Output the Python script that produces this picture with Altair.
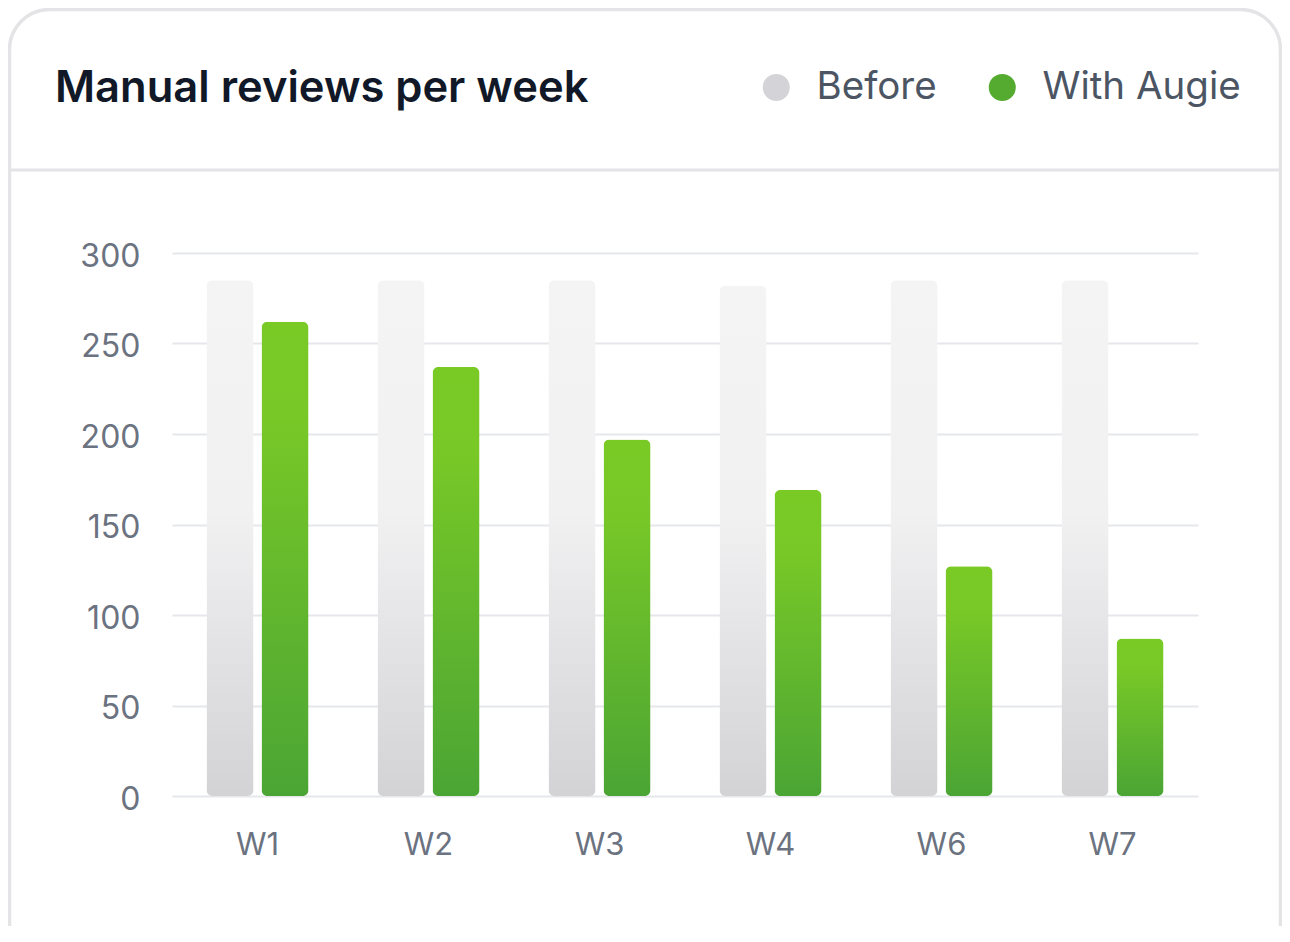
import altair as alt
import pandas as pd

# ---- data ----
weeks = ["W1", "W2", "W3", "W4", "W6", "W7"]
before = [285, 285, 285, 282, 285, 285]
with_augie = [262, 237, 197, 169, 127, 87]
series = ["Before", "With Augie"]
y_ticks = [0, 50, 100, 150, 200, 250, 300]
title_text = "Manual reviews per week"

rows = []
for w, b, a in zip(weeks, before, with_augie):
    rows.append({"week": w, "series": series[0], "value": b})
    rows.append({"week": w, "series": series[1], "value": a})
df = pd.DataFrame(rows)
one = pd.DataFrame({"k": [0]})

FONT = "Inter"

gray_grad = {
    "gradient": "linear", "x1": 0, "y1": 0, "x2": 0, "y2": 1,
    "stops": [{"offset": 0, "color": "#f4f4f5"}, {"offset": 0.45, "color": "#f1f1f2"},
              {"offset": 1, "color": "#d3d3d6"}],
}
green_grad = {
    "gradient": "linear", "x1": 0, "y1": 0, "x2": 0, "y2": 1,
    "stops": [{"offset": 0, "color": "#7aca26"}, {"offset": 0.2, "color": "#78c827"},
              {"offset": 1, "color": "#4ba534"}],
}

x = alt.X(
    "week:N", sort=weeks,
    scale=alt.Scale(paddingInner=0, paddingOuter=0),
    axis=alt.Axis(title=None, labelAngle=0, domain=False, ticks=False, grid=False,
                  labelPadding=34, labelFontSize=31, labelFont=FONT, labelColor="#6b7280"),
)
xo = alt.XOffset("series:N", scale=alt.Scale(domain=series, paddingInner=0.1455, paddingOuter=0.627))
y = alt.Y(
    "value:Q",
    scale=alt.Scale(domain=[0, 300], nice=False),
    axis=alt.Axis(values=y_ticks, title=None, domain=False, ticks=False,
                  labelPadding=32, labelOffset=3, labelFontSize=32, labelFont=FONT,
                  labelColor="#6b7280", gridColor="#e5e7eb", gridWidth=2),
)

base = alt.Chart(df).encode(x=x, xOffset=xo, y=y)

before_bars = base.transform_filter(alt.datum.series == "Before").mark_bar(
    cornerRadius=6, color=gray_grad)
green_bars = base.transform_filter(alt.datum.series == "With Augie").mark_bar(
    cornerRadius=6, color=green_grad)

legend_layer = base.mark_circle(opacity=0).encode(
    color=alt.Color(
        "series:N",
        scale=alt.Scale(domain=series, range=["#d4d4d8", "#55ab30"]),
        legend=alt.Legend(
            title=None, orient="none", legendX=585, legendY=-185, direction="horizontal",
            symbolType="circle", symbolSize=729, symbolStrokeWidth=0, symbolOpacity=1,
            labelFontSize=38.5, labelFont=FONT, labelColor="#4b5563", labelOffset=21,
            columnPadding=46, padding=0, labelLimit=500,
        ),
    )
)

card = alt.Chart(one).mark_rect(
    fill="transparent", stroke="#e4e4e7", strokeWidth=3.5, cornerRadius=40
).encode(x=alt.value(-162.5), x2=alt.value(1108.5), y=alt.value(-243.5), y2=alt.value(720))

separator = alt.Chart(one).mark_rule(color="#e4e4e7", strokeWidth=3).encode(
    x=alt.value(-161), x2=alt.value(1107), y=alt.value(-83))

title = alt.Chart(one).mark_text(
    text=title_text, font=FONT, fontSize=43.5, fontWeight=600, color="#111827",
    align="left", baseline="alphabetic",
).encode(x=alt.value(-117), y=alt.value(-151))

chart = alt.layer(card, separator, title, before_bars, green_bars, legend_layer).properties(
    width=1026, height=543,
    padding={"left": 164, "top": 245, "right": 84, "bottom": 130},
    autosize=alt.AutoSizeParams(type="none"),
    background="white",
).configure_view(stroke=None)

chart.save("out.html", embed_options={"renderer": "svg", "actions": False})
